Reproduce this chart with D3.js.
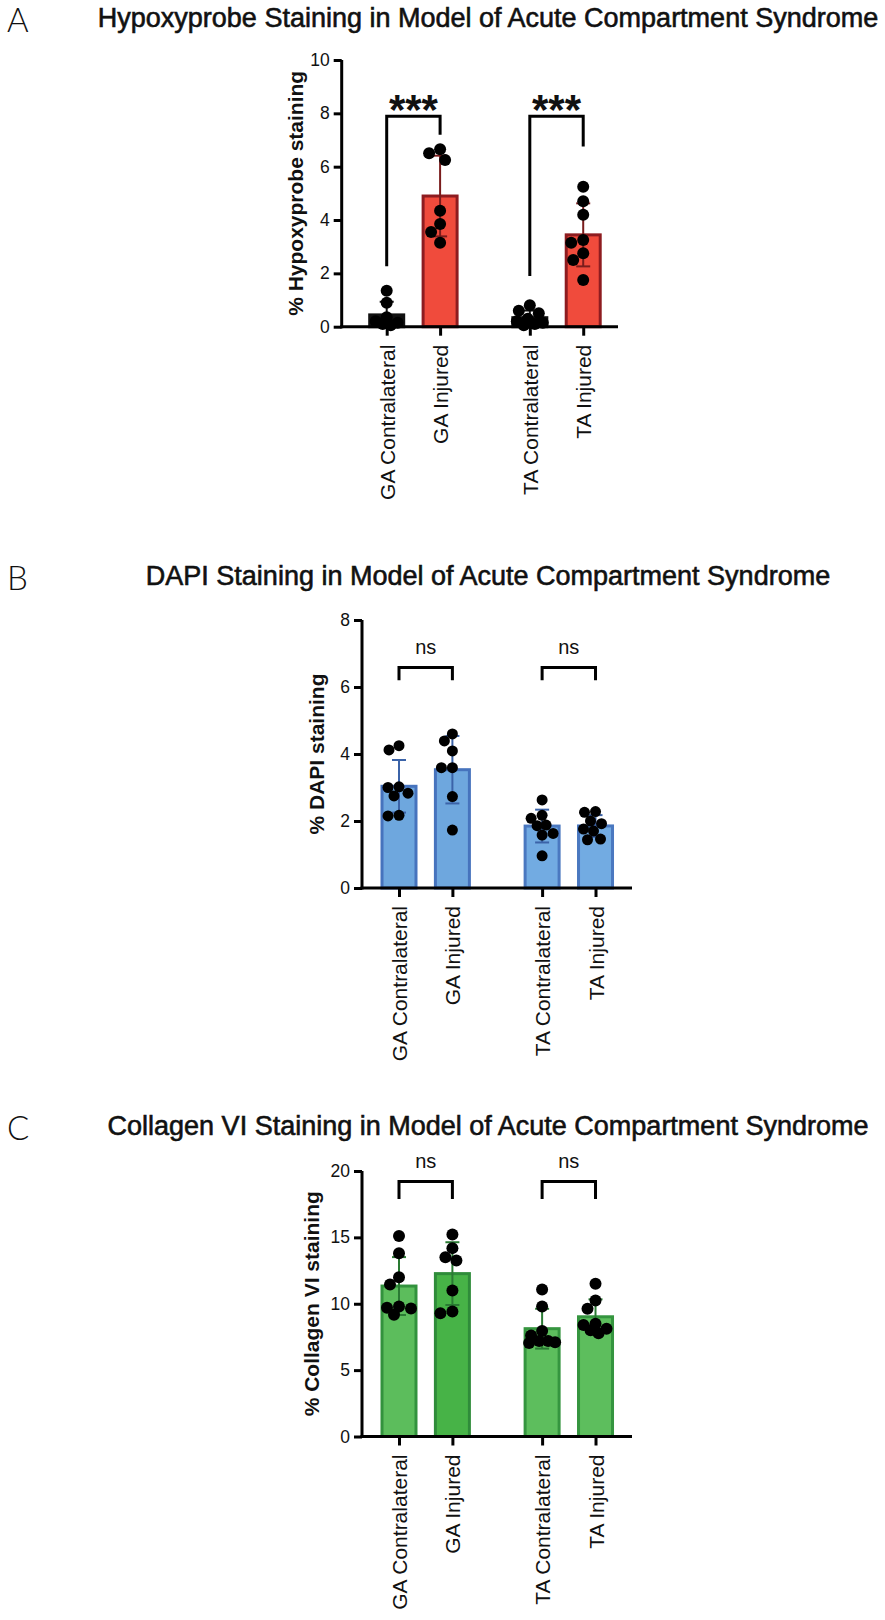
<!DOCTYPE html>
<html>
<head>
<meta charset="utf-8">
<script src="https://cdn.jsdelivr.net/npm/d3@7"></script>
<style>
  body { margin: 0; background: #fff; }
  svg { display: block; }
  text { font-family: "Liberation Sans", Arial, Helvetica, sans-serif; fill: #111; }
</style>
</head>
<body>
<svg width="885" height="1620"></svg>
<script>
// categories shared by the three panels
var categories = ["GA Contralateral", "GA Injured", "TA Contralateral", "TA Injured"];

// A - % Hypoxyprobe staining (individual animals)
var hypoxyGAContra = [1.35, 0.9, 0.35, 0.2, 0.15, 0.1, 0.05];
var hypoxyGAInjured = [6.65, 6.5, 6.25, 4.35, 3.85, 3.55, 3.15];
var hypoxyTAContra = [0.8, 0.6, 0.5, 0.3, 0.2, 0.15, 0.1, 0.05];
var hypoxyTAInjured = [5.25, 4.7, 4.2, 3.25, 3.15, 2.75, 2.5, 1.75];
var hypoxyTicks = [0, 2, 4, 6, 8, 10];

// B - % DAPI staining
var dapiGAContra = [4.25, 4.12, 3.02, 3.0, 2.83, 2.75, 2.15, 2.17];
var dapiGAInjured = [4.6, 4.39, 4.09, 3.59, 3.59, 2.73, 1.73];
var dapiTAContra = [2.63, 2.17, 2.08, 1.88, 1.86, 1.63, 1.58, 0.96];
var dapiTAInjured = [2.28, 2.26, 2.0, 1.92, 1.76, 1.7, 1.46, 1.44];
var dapiTicks = [0, 2, 4, 6, 8];

// C - % Collagen VI staining
var collGAContra = [15.1, 13.8, 12.0, 11.45, 9.8, 9.7, 9.65, 9.17];
var collGAInjured = [15.22, 14.19, 13.51, 13.26, 11.0, 9.29, 9.42];
var collTAContra = [11.08, 9.8, 7.95, 7.6, 7.2, 7.2, 7.05, 7.1];
var collTAInjured = [11.5, 10.25, 9.62, 8.49, 8.4, 8.11, 8.0, 7.78];
var collTicks = [0, 5, 10, 15, 20];

// comparison brackets: [left group, right group, top, left leg end, right leg end, label]
var hypoxyBrackets = [[0, 1, 7.89, 2.27, 7.2, "***"], [2, 3, 7.89, 1.9, 6.76, "***"]];
var dapiBrackets = [[0, 1, 6.58, 6.2, 6.2, "ns"], [2, 3, 6.58, 6.2, 6.2, "ns"]];
var collBrackets = [[0, 1, 19.2, 17.9, 17.9, "ns"], [2, 3, 19.2, 17.9, 17.9, "ns"]];

var panels = [
  {letter: "A", title: "Hypoxyprobe Staining in Model of Acute Compartment Syndrome",
   titleY: 27, axisX: 341.7, top: 60, bottom: 326.7, right: 618, first: 386.7,
   ticks: hypoxyTicks, yLabel: "% Hypoxyprobe staining", labelOff: 39, r: 6,
   groups: [hypoxyGAContra, hypoxyGAInjured, hypoxyTAContra, hypoxyTAInjured],
   fills: ["#111", "#f04b3c", "#111", "#f04b3c"],
   strokes: ["#111", "#8e1c20", "#111", "#8e1c20"],
   errs: ["#111", "#7a1c1c", "#111", "#7a1c1c"],
   brackets: hypoxyBrackets, starSize: 42},
  {letter: "B", title: "DAPI Staining in Model of Acute Compartment Syndrome",
   titleY: 585, axisX: 362, top: 620, bottom: 888, right: 632, first: 399,
   ticks: dapiTicks, yLabel: "% DAPI staining", labelOff: 38.5, r: 5.5,
   groups: [dapiGAContra, dapiGAInjured, dapiTAContra, dapiTAInjured],
   fills: ["#6ea7de", "#6ea7de", "#72abe2", "#72abe2"],
   strokes: ["#4673bd", "#4673bd", "#4a78c0", "#4a78c0"],
   errs: ["#3b63a8", "#3b63a8", "#3b63a8", "#3b63a8"],
   brackets: dapiBrackets},
  {letter: "C", title: "Collagen VI Staining in Model of Acute Compartment Syndrome",
   titleY: 1135, axisX: 362, top: 1171, bottom: 1436.5, right: 632, first: 399,
   ticks: collTicks, yLabel: "% Collagen VI staining", labelOff: 43.5, r: 6,
   groups: [collGAContra, collGAInjured, collTAContra, collTAInjured],
   fills: ["#5cbd5c", "#47b347", "#5dbe5d", "#5dbe5d"],
   strokes: ["#32923d", "#2f8c3a", "#35953f", "#35953f"],
   errs: ["#2a7a33", "#2a7a33", "#2a7a33", "#2a7a33"],
   brackets: collBrackets}
];

var svg = d3.select("svg");
var slots = [0, 1, 2.68, 3.68];  // gap between GA and TA pairs
var slotW = 53.4, barW = 34, titleCenter = 488;

// scatter spread: push points sideways (within the bar) when they would overlap
function swarm(vals, y, cx, r, maxOff) {
  var pts = vals.map(function(v) { return {v: v, py: y(v)}; })
                .sort(function(a, b) { return a.py - b.py; });
  var placed = [];
  var offs = [0];
  for (var k = 1; k <= maxOff; k++) { offs.push(-k, k); }
  pts.forEach(function(p) {
    var best = 0, bestD = -1;
    for (var j = 0; j < offs.length; j++) {
      var dmin = d3.min(placed, function(q) {
        return Math.hypot(q.px - (cx + offs[j]), q.py - p.py);
      });
      if (dmin === undefined) dmin = Infinity;
      if (dmin >= 2 * r * 0.95) { best = offs[j]; bestD = dmin; break; }
      if (dmin > bestD) { bestD = dmin; best = offs[j]; }
    }
    p.px = cx + best;
    placed.push(p);
  });
  return placed;
}

panels.forEach(function(p) {
  var g = svg.append("g");
  var y = d3.scaleLinear().domain([0, p.ticks[p.ticks.length - 1]]).range([p.bottom, p.top]);
  var slot = d3.scaleLinear().domain([0, 1]).range([p.first, p.first + slotW]);
  var x = d3.scaleOrdinal().domain(categories).range(slots.map(slot));

  var stats = p.groups.map(function(vals, i) {
    return {cat: categories[i], i: i, vals: vals, mean: d3.mean(vals), sd: d3.deviation(vals)};
  });

  // panel letter and title
  g.append("text").attr("x", 7).attr("y", p.titleY + 5)
   .style("font-family", "Lato, 'Open Sans', sans-serif").style("font-weight", 300)
   .style("font-size", "33px").text(p.letter);
  g.append("text").attr("x", titleCenter).attr("y", p.titleY).attr("text-anchor", "middle")
   .style("font-size", "27px").style("stroke", "#111").style("stroke-width", 0.6)
   .text(p.title);

  // bars
  g.selectAll(".bar").data(stats).enter().append("rect")
   .attr("x", function(d) { return x(d.cat) - barW / 2; })
   .attr("width", barW)
   .attr("y", function(d) { return y(d.mean); })
   .attr("height", function(d) { return y(0) - y(d.mean); })
   .attr("fill", function(d) { return p.fills[d.i]; })
   .attr("stroke", function(d) { return p.strokes[d.i]; })
   .attr("stroke-width", 3);

  // mean +- SD
  var eb = g.selectAll(".err").data(stats).enter().append("g")
   .attr("stroke", function(d) { return p.errs[d.i]; }).attr("stroke-width", 2);
  eb.append("line")
   .attr("x1", function(d) { return x(d.cat); }).attr("x2", function(d) { return x(d.cat); })
   .attr("y1", function(d) { return y(Math.max(0, d.mean - d.sd)); })
   .attr("y2", function(d) { return y(d.mean + d.sd); });
  eb.append("line")
   .attr("x1", function(d) { return x(d.cat) - 7; }).attr("x2", function(d) { return x(d.cat) + 7; })
   .attr("y1", function(d) { return y(d.mean + d.sd); }).attr("y2", function(d) { return y(d.mean + d.sd); });
  eb.filter(function(d) { return d.mean - d.sd > 0; }).append("line")
   .attr("x1", function(d) { return x(d.cat) - 7; }).attr("x2", function(d) { return x(d.cat) + 7; })
   .attr("y1", function(d) { return y(d.mean - d.sd); }).attr("y2", function(d) { return y(d.mean - d.sd); });

  // individual points
  stats.forEach(function(d) {
    g.selectAll(null).data(swarm(d.vals, y, x(d.cat), p.r, 13)).enter().append("circle")
     .attr("cx", function(q) { return q.px; }).attr("cy", function(q) { return q.py; })
     .attr("r", p.r).attr("fill", "#000");
  });

  // y axis
  var yAxis = d3.axisLeft(y).tickValues(p.ticks).tickSize(8).tickSizeOuter(0).tickPadding(4);
  var ya = g.append("g").attr("transform", "translate(" + p.axisX + ",0)").call(yAxis);
  ya.select(".domain").attr("stroke", "#000").attr("stroke-width", 3)
    .attr("d", "M0," + (p.bottom + 1.5) + "V" + p.top);
  ya.selectAll(".tick line").attr("stroke", "#000").attr("stroke-width", 3);
  ya.selectAll(".tick text").style("font-size", "17.5px").attr("fill", "#111")
    .style("font-family", "'Liberation Sans', Arial, sans-serif");

  g.append("text")
   .attr("transform", "translate(" + (p.axisX - p.labelOff) + "," + ((p.top + p.bottom) / 2) + ") rotate(-90)")
   .attr("text-anchor", "middle").style("font-size", "21px").style("font-weight", "bold")
   .text(p.yLabel);

  // x axis
  var xAxis = d3.axisBottom(x).tickSize(9).tickSizeOuter(0);
  var xa = g.append("g").attr("transform", "translate(0," + p.bottom + ")").call(xAxis);
  xa.select(".domain").attr("stroke", "#000").attr("stroke-width", 3)
    .attr("d", "M" + (p.axisX - 1.5) + ",0H" + p.right);
  xa.selectAll(".tick line").attr("stroke", "#000").attr("stroke-width", 3);
  xa.selectAll(".tick text")
    .attr("transform", "rotate(-90)").attr("x", -18).attr("y", 0).attr("dy", "0.36em")
    .style("text-anchor", "end").style("font-size", "21px").attr("fill", "#111")
    .style("font-family", "'Liberation Sans', Arial, sans-serif");

  // significance brackets
  p.brackets.forEach(function(b) {
    var x1 = x(categories[b[0]]), x2 = x(categories[b[1]]);
    g.append("path")
     .attr("d", "M" + x1 + "," + y(b[3]) + "V" + y(b[2]) + "H" + x2 + "V" + y(b[4]))
     .attr("fill", "none").attr("stroke", "#000").attr("stroke-width", 3);
    var t = g.append("text").attr("x", (x1 + x2) / 2).attr("text-anchor", "middle").text(b[5]);
    if (b[5] === "ns") {
      t.attr("y", y(b[2]) - 14).style("font-size", "20px");
    } else {
      t.attr("y", y(b[2]) + 8).style("font-size", p.starSize + "px").style("font-weight", "bold");
    }
  });
});
</script>
</body>
</html>
